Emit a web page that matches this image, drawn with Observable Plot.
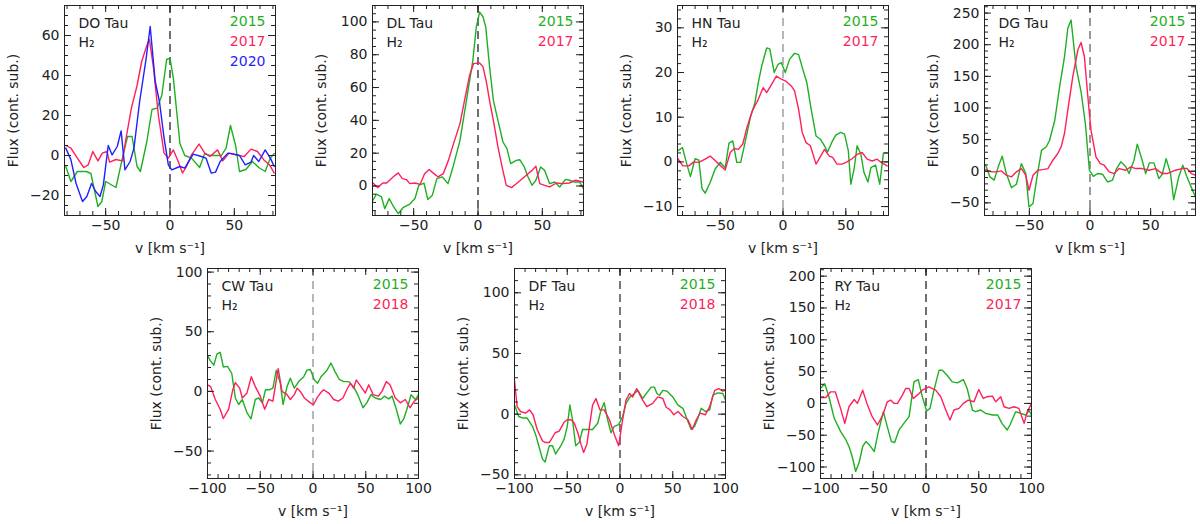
<!DOCTYPE html>
<html>
<head>
<meta charset="utf-8">
<script src="https://cdn.jsdelivr.net/npm/d3@7"></script>
<script src="https://cdn.jsdelivr.net/npm/@observablehq/plot@0.6"></script>
<style>
  body { margin: 0; background: #fff; }
  #chart { position: relative; width: 1200px; height: 524px; font-family: "DejaVu Sans", sans-serif; }
  #chart > svg { position: absolute; }
  g[aria-label="ylabel"] text { letter-spacing: 1.8px; }
  g[aria-label="xlabel"] text { letter-spacing: 1px; word-spacing: 3px; }
</style>
</head>
<body>
<div id="chart"></div>
<script>
// H2 line profiles, v [km/s] vs flux (continuum subtracted)

// DO Tau
const doTau2015 = [[-81,-5.5],[-77,-13],[-72,-8],[-65,-8],[-61.5,-9],[-56,-25.5],[-53,-23],[-50,-13],[-42,-16],[-37,-1.3],[-33,9.5],[-29.5,9.5],[-25.6,-5.5],[-23,-8],[-18,7],[-14,23],[-10,23.7],[-6.4,30],[-2.6,48],[0,48.7],[2.6,38.7],[7.7,6],[11.5,0],[16.7,-1.3],[23,-6],[27,1],[30.8,0],[36,0],[40,0],[43.6,3.7],[47,15],[51,5],[54,-8],[59,-7],[64,-3],[69,-6],[74,-8],[78,-1.3],[81,1]];
const doTau2017 = [[-81,5],[-77,3.7],[-72,-1.3],[-67,-6],[-63.6,-4.7],[-60,2],[-56,-2.7],[-52.6,1.2],[-49,2],[-47,-3.3],[-42,-2],[-37,-2.7],[-34.6,7],[-30,23.7],[-25.6,35],[-22,47],[-18,55],[-16,58],[-12.8,43.7],[-9,20],[-4.6,1.2],[-1.3,-1.3],[2.6,2.8],[6.4,-3],[9.7,-8.8],[12.8,-5.5],[16.7,0.3],[22.6,5.7],[27,1.2],[31,-0.5],[37,2.8],[41,-2.7],[46,1.2],[51,0.3],[57.7,-0.5],[63,3.2],[68,2],[73,-2.2],[77.4,-4.7],[81,-8.8]];
const doTau2020 = [[-81,3.7],[-77,-2.2],[-73,-14],[-68,-23],[-64.6,-20.5],[-61,-14],[-57.7,-18],[-54.4,-20.5],[-51.8,-14.7],[-48,5],[-45,0.3],[-41,4.5],[-38,12.3],[-35,-7.2],[-31,-3],[-28,3.7],[-23.6,27],[-18.5,48.7],[-15.4,64.5],[-11.5,37],[-8.2,27],[-4.6,8.7],[-1.3,-4.7],[1.3,-7.2],[7.7,-5.5],[11.5,-6.3],[18,0.7],[24.4,-0.5],[28,-1.3],[32,-8.8],[35.4,-8.3],[39,-3],[45,1.2],[50,0.7],[54,0],[58.5,-4.7],[63,-3.3],[65,0],[69,-3],[74,2.8],[78,-1.3],[81,-5.5]];

// DL Tau
const dlTau2015 = [[-81.6,-8.7],[-79,-5],[-75,-6.7],[-72.5,-13.8],[-69,-7.7],[-65.5,-12.8],[-62,-16.9],[-58,-13],[-53,-11],[-49,-7.7],[-46,0.4],[-42,1.8],[-39,-8.3],[-35.5,-5.7],[-32,4.5],[-27.7,5.5],[-23.3,1.4],[-19.4,11.6],[-14,27.8],[-9,52],[-4,76.6],[-1.3,97],[1.3,106],[3.9,103],[6,97],[9,72.6],[12,52],[15.5,40],[19.4,26.8],[22.5,22.8],[25.4,13.6],[29.8,15.6],[32.4,16],[36,11.6],[38.9,5.5],[42,0.4],[45,3.5],[48.7,11.6],[51.8,9.5],[55.7,1.4],[59.6,2.4],[63.5,-0.6],[68,4],[71,3.5],[75,2.4],[79,2.4],[82,-1.6]];
const dlTau2017 = [[-81.6,1.8],[-78,-1],[-74,1.8],[-71,1.8],[-66,5.5],[-62,8],[-58.8,4.5],[-55.7,3.9],[-53,1.4],[-49,1.8],[-45,1],[-41.5,7.5],[-38,10],[-35,8],[-31,5.5],[-27,7.5],[-23,15.6],[-19,25.8],[-14,38],[-10,54],[-6.5,67.5],[-3.4,74.6],[1.3,75],[3.9,72.6],[6.5,63.4],[9,52],[12.4,38],[15.5,23.8],[19,10.6],[22,0.4],[26,-1],[29.8,1.4],[33,3.5],[37.6,6.5],[42,9.5],[45,12],[48,1.4],[51.8,0.4],[55.7,-0.6],[61,1.8],[66,1.4],[71,1.8],[76,3.5],[82,2.4]];

// HN Tau
const hnTau2015 = [[-83.7,2.5],[-80,3.2],[-77,-0.1],[-73.7,-3.3],[-70,0.7],[-67,0.4],[-64.5,-6],[-62,-7],[-58,-4.6],[-54,-1.6],[-50,-0.1],[-46,-1.3],[-43,4.2],[-40,4.7],[-36.8,-0.1],[-33.7,-0.1],[-30.8,3.6],[-26,9.9],[-22.4,13.2],[-19.7,17.7],[-17,21.4],[-13,25.5],[-10.5,25.3],[-7,20],[-4,21.8],[-1.3,22.2],[1.8,20],[5.3,23],[9.2,24.3],[12.4,24],[15.8,20.7],[19,17.7],[22.4,11.8],[26.3,5.8],[30,5],[33,3.6],[35.5,2.2],[38.7,4.3],[42,6],[46,6.6],[49,6.2],[52,2.5],[54,-5],[56.6,-1.6],[59,3.6],[62,1.7],[64.5,-2.4],[67.6,-4.5],[70,-1.3],[73.7,-0.7],[77,-5],[80,2],[83,2]];
const hnTau2017 = [[-83.7,0.7],[-79.7,-0.9],[-75,-0.9],[-71,0],[-67,-0.1],[-62,0.6],[-58,1.3],[-54.5,0.4],[-51,-0.5],[-46,-1.8],[-42,2.1],[-38.7,3],[-35.5,2.8],[-32,4],[-29,7.4],[-24.5,11.4],[-19.7,14],[-15.8,16.6],[-13,15.5],[-9.2,17.3],[-5.3,19.2],[-1.3,18.5],[2.6,18],[6.6,17],[9.2,15.9],[12.4,11.8],[15.3,6.6],[18.4,4.3],[21.8,3.6],[26.3,-0.5],[30,1.3],[33,2.8],[36.8,1.3],[39.5,1],[43,-0.5],[47,-0.5],[51,0],[55,0.7],[59,1.7],[63,2.1],[67,0.6],[71,0.2],[75,0.6],[78,-0.1],[83,-0.9]];

// DG Tau
const dgTau2015 = [[-86,9.5],[-82.5,-9],[-79,-14],[-75.7,6.9],[-72.4,23.8],[-69,-3.7],[-64.8,-26],[-60.7,-20.6],[-56.6,12],[-53,-3.7],[-50.3,-56.5],[-47,-51],[-43.7,-9],[-40,33],[-36,38.6],[-33.3,49],[-29,81],[-25,134],[-21,181],[-18.3,226],[-15.6,239],[-11.5,165],[-7.4,126],[-3.8,75],[-0.5,1.6],[2.7,-8],[6.3,-3.7],[10.4,-4.8],[14.5,-17],[18.6,-14],[21.9,4.2],[25.4,14.8],[29.5,6.9],[32.2,-3.7],[36.3,17.4],[39,42.8],[43,17.4],[45.9,-3.7],[49,13.2],[52.7,13.2],[56.8,-11.6],[59.6,-4.8],[62.8,20],[66.4,-3.7],[69,-45],[73.2,-9],[76.5,9.5],[80,-9],[84,-27.5],[87,-40.7]];
const dgTau2017 = [[-86,2.6],[-81,-1],[-77,-1],[-73,0.5],[-69,-6.3],[-64.8,-9],[-60.7,-1],[-56.6,4.2],[-53,-6.3],[-50.3,-30],[-47,-6.3],[-43,1.6],[-39,2.6],[-34.7,4.2],[-30.6,17.4],[-26.5,28],[-23.8,38.6],[-21,60],[-18.3,96.7],[-14.2,149.6],[-10,192],[-7.4,203.5],[-4.6,181],[-1.9,120.5],[0.8,65],[4.9,22.7],[8.5,12],[11.7,9.5],[15.8,-1],[20,-3.7],[24,4.2],[29.5,1.6],[33.6,6.9],[37.7,4.2],[43,4.2],[48.6,1.6],[54,4.2],[59.6,-3.7],[63.7,-3.7],[70.5,1.6],[76,4.2],[80,4.2],[83.6,-3.7],[87,-6.3]];

// CW Tau
const cwTau2015 = [[-100,30],[-97.5,26],[-94,22],[-91,31.4],[-88,32.8],[-85,20.5],[-81,21],[-77,15],[-73.6,-5.5],[-70.5,-11],[-67,-6.8],[-62.6,-17.8],[-58.8,-23],[-54.7,-6.8],[-51.5,-5.5],[-48,-9.6],[-45,1.4],[-41,1.4],[-38,2.7],[-34.8,17.8],[-31,6.8],[-28.4,-11],[-24.6,4],[-21.5,11],[-17.7,2.7],[-13.6,8.2],[-8.8,12.3],[-5.7,17.8],[-2.5,18.3],[1.3,9.6],[4.4,6.8],[7.6,12.3],[13.3,17.8],[17,23.8],[21,16.4],[25,10],[29,8.2],[34,8.2],[38.5,4],[43,-4],[47.4,-13.7],[51,-9.6],[55,-2.7],[59,-5.5],[64,-6.8],[67.6,-4],[71.7,-6.3],[75,-4],[79,-15],[82.8,-27.3],[86,-23],[89,-15],[93,-2.7],[97,-6.8],[100,-2.7]];
const cwTau2018 = [[-100,5.5],[-97,4],[-92.6,-6.8],[-88,-15],[-85,-22.7],[-80,-15],[-76,1.4],[-73.6,7.4],[-69.5,2.7],[-67,-5.5],[-62.6,-1.4],[-58.5,12.3],[-54.7,4],[-50,-4],[-45.8,-15],[-42,-6.8],[-38,-8.2],[-33,19],[-29.4,0],[-24.6,-2.7],[-21.5,-6.8],[-17.7,-2.7],[-15,2.7],[-12,0],[-8.2,-5.5],[-2.5,-9.6],[0.6,-11],[3.8,-5.5],[7,-1.4],[10,1.4],[15,-1.4],[19.6,-6.8],[24,-8.2],[28.4,-5.5],[32,1.4],[35.4,6.8],[38.5,2.7],[41,9.6],[45.5,4],[49.6,-1.4],[52.8,5.5],[57,-2.7],[62,-4],[65.4,0],[69.5,8.2],[73,5.5],[78,-5.5],[82.8,-9.6],[87.5,-6.8],[92,-13.7],[96,-8.2],[100,-5.5]];

// DF Tau
const dfTau2015 = [[-100,7.5],[-96,-1.9],[-92,-3.2],[-88,-3.2],[-83,-10],[-80,-16.7],[-77,-26],[-73.5,-36.8],[-71,-39.5],[-67,-26],[-64,-26],[-61,-32.8],[-56,-26],[-53,-20.7],[-50,-10],[-47.5,7.5],[-45,-4.6],[-42,-26],[-38.7,-23.4],[-35.5,-12.6],[-30.7,-12.6],[-26,-12.6],[-21,-7.3],[-18,3.5],[-15,9.4],[-11.7,-4.6],[-8.5,-15.3],[-5.4,-10],[-1.3,-8.6],[2.5,-1.9],[5.7,8.9],[9.5,14.2],[13.6,17],[17,19.6],[21.5,12.9],[25.4,17.5],[29.5,22.3],[32.6,22.3],[35,17],[37.4,15.6],[40.6,19.6],[44.4,19],[50,14.2],[55,7.5],[59.6,4.8],[64.4,-6],[67.5,-12.6],[70.7,-10],[73.9,-3.2],[77,4.8],[81,2.2],[85,3.5],[88,15.6],[92.7,17.5],[97.5,17],[100,11.6]];
const dfTau2018 = [[-100,27.7],[-97.5,6.2],[-94.3,2.2],[-89.5,0.8],[-85.7,3.5],[-82.4,-0.5],[-78.5,-12.6],[-73.5,-22],[-70.7,-23.4],[-67,-23.4],[-61.5,-15.3],[-57.7,-14],[-53,-6.7],[-50,-4.6],[-46.6,-4.6],[-43.4,-7.3],[-40,-15.3],[-37,-24.7],[-34.5,-31.5],[-31.4,-24.7],[-28.5,-7.3],[-26,7.5],[-22.8,12.9],[-19,3.5],[-15,3.5],[-10,-4.6],[-5.4,-16.7],[-1.3,-26],[2.5,-4.6],[5.7,11.6],[9,17],[12,14.2],[15.8,21],[21.5,11.6],[25.4,6.2],[31,8.9],[35.8,14.2],[40.6,12.9],[43.7,5.7],[47.5,3.5],[51,-0.5],[55,2.2],[59.6,-1.9],[64.4,-4.6],[68.5,-12.6],[72.3,-4.6],[76,0.8],[81,-0.5],[85,6.2],[89.8,19.6],[93.7,21],[97.5,19],[100,19.6]];

// RY Tau
const ryTau2015 = [[-100,23.4],[-96,31],[-92,10.4],[-87,-23.4],[-81,-44],[-76,-57],[-73,-67.7],[-70,-83],[-66.7,-106.8],[-63.5,-93.8],[-60,-67.7],[-57,-60],[-53,-66.7],[-49,-75.5],[-45.5,-47],[-40.4,-13],[-36.7,-36.5],[-32.8,-60],[-29.7,-61.5],[-25.6,-41.7],[-21,-31.3],[-16,-20.8],[-11.4,33.9],[-7.3,37.5],[-3.5,10.4],[0.6,-12],[3.8,-7.8],[7.6,20.8],[12.3,52],[15.5,52],[20,44.3],[24.9,33.9],[29.7,32.3],[35.4,37.5],[39,23.4],[44,-10.4],[47,-13],[51.8,-10.4],[56.5,-15.6],[63,-18.2],[68,-18.2],[72,-31.3],[77,-41.7],[79.6,-33.9],[85,-13],[89.7,-15.6],[94.5,-18.2],[97.6,-11.5],[100,-18]];
const ryTau2017 = [[-100,9.4],[-95,9.4],[-90.4,18.2],[-86,18.2],[-81,-7.8],[-77,-31.3],[-73,-5.2],[-68,6.2],[-65,0],[-60,20.8],[-56,0],[-51,-20.8],[-46,-33.9],[-41,-18.2],[-36.7,2.6],[-33.5,5.2],[-30.3,0],[-27,0],[-22.4,13],[-19.3,23.4],[-16,23.4],[-12,7.8],[-8.2,13],[-3.5,20.8],[2.8,26],[9.2,20.8],[14,10.4],[18.6,-9.4],[22.7,-26],[26.5,-10.4],[31.3,-7.8],[35.4,0],[40,5.2],[45.5,2.6],[50,21.9],[54.3,7.8],[57.5,10.4],[63,11.5],[66,2.6],[70.8,10.4],[74,-5.2],[78.7,-7.8],[83.4,-5.2],[88,-7.8],[93,-31.3],[96,-13],[100,0]];

const green = "#1faf22", red = "#ff1f5a", blue = "#1f1fff";

const panels = [
  {name: "DO Tau", left: 4, top: 0, x: [-82, 82], y: [-30, 75], xs: [50, 10], ys: [20, 5], dash: "#111",
   series: [["2015", doTau2015, green], ["2017", doTau2017, red], ["2020", doTau2020, blue]]},
  {name: "DL Tau", left: 312, top: 0, x: [-82, 82], y: [-18, 110], xs: [50, 10], ys: [20, 5], dash: "#111",
   series: [["2015", dlTau2015, green], ["2017", dlTau2017, red]]},
  {name: "HN Tau", left: 617, top: 0, x: [-84, 84], y: [-12, 35], xs: [50, 10], ys: [10, 2], dash: "#888",
   series: [["2015", hnTau2015, green], ["2017", hnTau2017, red]]},
  {name: "DG Tau", left: 924, top: 0, x: [-87, 87], y: [-70, 262], xs: [50, 10], ys: [50, 10], dash: "#555",
   series: [["2015", dgTau2015, green], ["2017", dgTau2017, red]]},
  {name: "CW Tau", left: 147, top: 263, x: [-100, 100], y: [-73, 103], xs: [50, 10], ys: [50, 10], dash: "#888",
   series: [["2015", cwTau2015, green], ["2018", cwTau2018, red]]},
  {name: "DF Tau", left: 454, top: 263, x: [-100, 100], y: [-53, 120], xs: [50, 10], ys: [50, 10], dash: "#222",
   series: [["2015", dfTau2015, green], ["2018", dfTau2018, red]]},
  {name: "RY Tau", left: 760, top: 263, x: [-100, 100], y: [-118, 212], xs: [50, 10], ys: [50, 10], dash: "#111",
   series: [["2015", ryTau2015, green], ["2017", ryTau2017, red]]}
];

const W = 211, H = 210;
const mL = 60, mR = 5, mT = 5, mB = 45;
const minus = d => d < 0 ? "\u2212" + Math.abs(d) : String(d);
const ticksIn = ([a, b], step) => d3.range(Math.ceil(a / step) * step, b + 1e-9, step);

for (const p of panels) {
  const xMaj = ticksIn(p.x, p.xs[0]), xMin = ticksIn(p.x, p.xs[1]);
  const yMaj = ticksIn(p.y, p.ys[0]), yMin = ticksIn(p.y, p.ys[1]);
  const chart = Plot.plot({
    width: W + mL + mR,
    height: H + mT + mB,
    marginLeft: mL, marginRight: mR, marginTop: mT, marginBottom: mB,
    x: {domain: p.x},
    y: {domain: p.y},
    style: {fontFamily: "DejaVu Sans, sans-serif", fontSize: "14px", color: "#222", background: "transparent", overflow: "visible"},
    marks: [
      Plot.ruleX([0], {stroke: p.dash, strokeWidth: 1.2, strokeDasharray: "8,5"}),
      ...p.series.map(([yr, pts, c]) =>
        Plot.line(pts, {x: d => d[0], y: d => d[1], stroke: c, strokeWidth: 1.4, clip: true})),
      Plot.frame({stroke: "#222"}),
      // inward ticks on all four sides
      Plot.tickY(yMaj, {y: d => d, insetRight: W - 7, stroke: "#222"}),
      Plot.tickY(yMaj, {y: d => d, insetLeft: W - 7, stroke: "#222"}),
      Plot.tickY(yMin, {y: d => d, insetRight: W - 4, stroke: "#222"}),
      Plot.tickY(yMin, {y: d => d, insetLeft: W - 4, stroke: "#222"}),
      Plot.tickX(xMaj, {x: d => d, insetTop: H - 7, stroke: "#222"}),
      Plot.tickX(xMaj, {x: d => d, insetBottom: H - 7, stroke: "#222"}),
      Plot.tickX(xMin, {x: d => d, insetTop: H - 4, stroke: "#222"}),
      Plot.tickX(xMin, {x: d => d, insetBottom: H - 4, stroke: "#222"}),
      Plot.axisX({ticks: xMaj, tickSize: 0, tickPadding: 5, tickFormat: minus, label: null}),
      Plot.axisY({ticks: yMaj, tickSize: 0, tickPadding: 5, tickFormat: minus, label: null}),
      Plot.text(["v [km s\u207B\u00B9]"], {frameAnchor: "bottom", dy: 33, lineAnchor: "middle", textAnchor: "middle", fill: "#222", ariaLabel: "xlabel"}),
      Plot.text(["Flux (cont. sub.)"], {frameAnchor: "left", dx: -51, rotate: -90, lineAnchor: "middle", textAnchor: "middle", fill: "#222", ariaLabel: "ylabel"}),
      Plot.text([p.name + "\nH\u2082"], {frameAnchor: "top-left", dx: 14, dy: 10, lineAnchor: "top", textAnchor: "start", lineHeight: 1.3, fill: "#222"}),
      ...p.series.map(([yr, pts, c], i) =>
        Plot.text([yr], {frameAnchor: "top-right", dx: -10, dy: 11 + i * 20, lineAnchor: "top", textAnchor: "end", fill: c}))
    ]
  });
  chart.style.left = p.left + "px";
  chart.style.top = p.top + "px";
  document.getElementById("chart").append(chart);
}
</script>
</body>
</html>
